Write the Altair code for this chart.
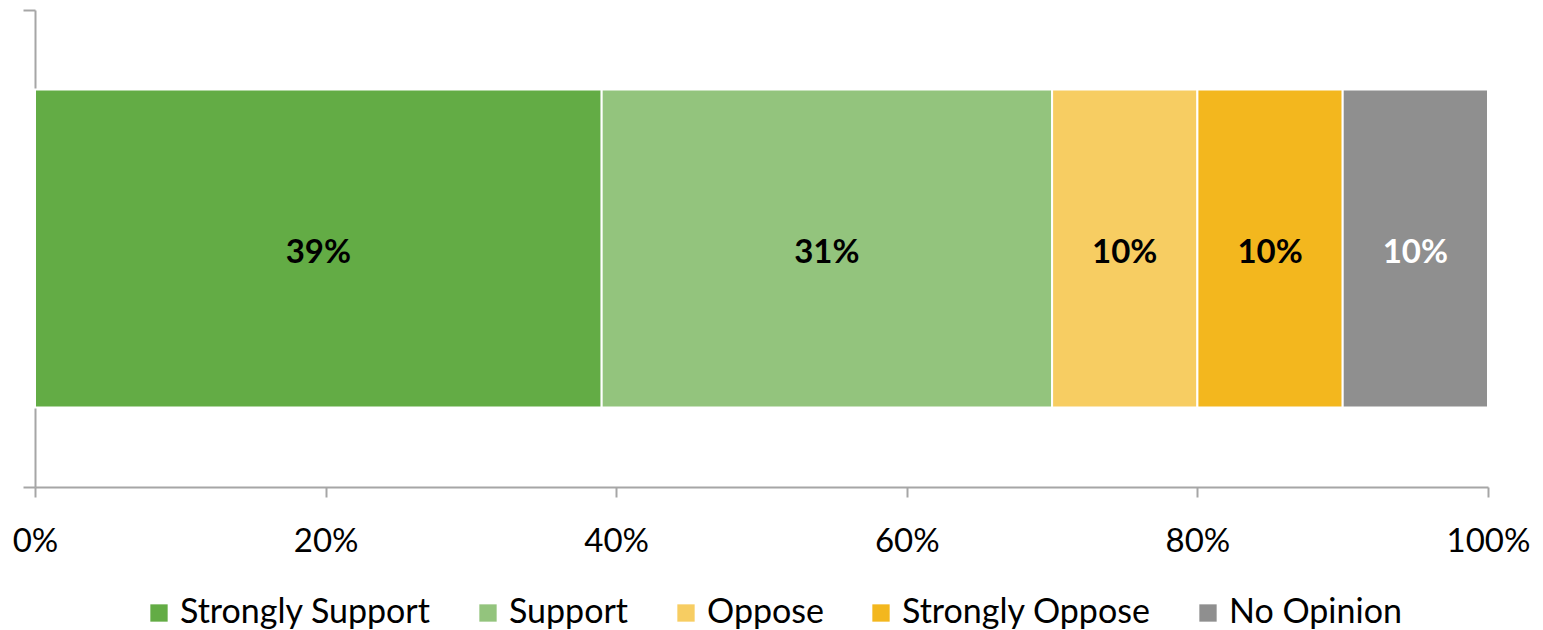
import altair as alt
import pandas as pd

categories = ["Strongly Support", "Support", "Oppose", "Strongly Oppose", "No Opinion"]
values = [39, 31, 10, 10, 10]
colors = ["#63AC45", "#93C47D", "#F7CD62", "#F3B71E", "#8F8F8F"]
label_colors = ["black", "black", "black", "black", "white"]
x_ticks = [0, 20, 40, 60, 80, 100]

FONT = "Lato"
GRAY = "#A6A6A6"

df = pd.DataFrame({
    "category": categories,
    "value": values,
    "order": list(range(len(categories))),
    "row": ["all"] * len(categories),
    "label": [f"{v}%" for v in values],
    "lc": label_colors,
})

x_axis = alt.Axis(values=x_ticks, labelExpr="datum.value + '%'", grid=False,
                  domainColor=GRAY, domainWidth=2, tickColor=GRAY, tickWidth=2,
                  tickSize=10, labelFontSize=33, labelFont=FONT, labelColor="black",
                  labelPadding=28, labelFlush=False, title=None)

bars = alt.Chart(df).mark_bar(stroke="white", strokeWidth=2).encode(
    x=alt.X("value:Q", stack="zero", scale=alt.Scale(domain=[0, 100], nice=False), axis=x_axis),
    y=alt.Y("row:N", axis=None, scale=alt.Scale(paddingInner=0, paddingOuter=0.25)),
    color=alt.Color("category:N", sort=categories,
                    scale=alt.Scale(domain=categories, range=colors),
                    legend=alt.Legend(orient="none", direction="horizontal", title=None,
                                      legendX=107, legendY=586, padding=0,
                                      symbolType="square", symbolSize=300,
                                      symbolStrokeWidth=0, labelFontSize=34, labelFont=FONT,
                                      labelColor="black", labelOffset=4, columnPadding=40,
                                      labelLimit=400)),
    order=alt.Order("order:Q"),
)

text = alt.Chart(df).transform_window(
    cum="sum(value)", sort=[alt.SortField("order")]
).transform_calculate(
    mid="datum.cum - datum.value / 2"
).mark_text(fontSize=33, font=FONT, fontWeight="bold", dy=4).encode(
    x=alt.X("mid:Q", scale=alt.Scale(domain=[0, 100], nice=False)),
    y=alt.Y("row:N", axis=None, scale=alt.Scale(paddingInner=0, paddingOuter=0.25)),
    text="label:N",
    color=alt.Color("lc:N", scale=None),
)

yaxis_df = pd.DataFrame({"v": [0, 1]})
yaxis = alt.Chart(yaxis_df).mark_point(opacity=0).encode(
    y=alt.Y("v:Q", scale=alt.Scale(domain=[0, 1], nice=False),
            axis=alt.Axis(orient="left", values=[0, 1], labels=False, grid=False, title=None,
                          domainColor=GRAY, domainWidth=2, tickColor=GRAY, tickWidth=2,
                          tickSize=12)),
)

chart = alt.layer(bars, text, yaxis).resolve_scale(y="independent", color="independent").properties(
    width=1453, height=477,
    autosize=alt.AutoSizeParams(type="none"),
    padding={"left": 27, "top": 2, "right": 45, "bottom": 143},
).configure_view(stroke=None)

chart.save("out.html", embed_options={"renderer": "svg", "actions": False})
